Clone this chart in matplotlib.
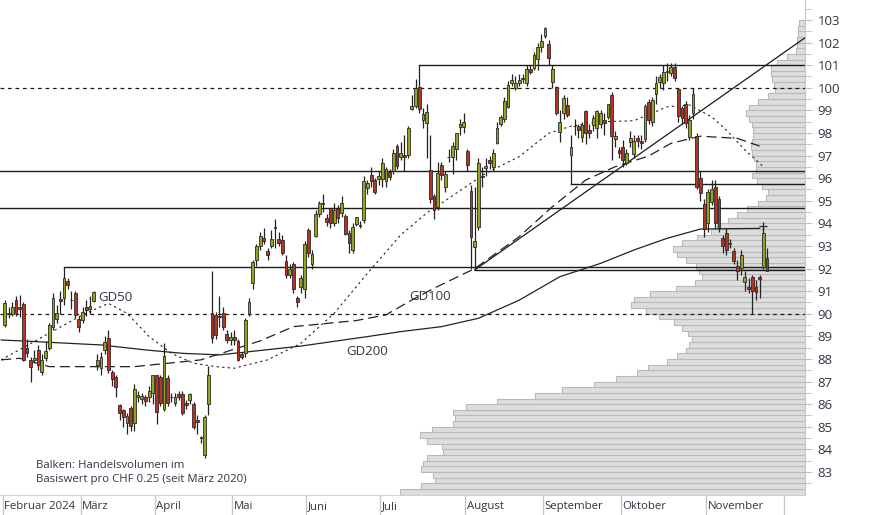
import matplotlib
matplotlib.use("Agg")
import matplotlib.pyplot as plt
import numpy as np

plt.rcParams['font.family'] = ['Open Sans', 'DejaVu Sans']

# ---- daily OHLC, day 0 = 1 Feb 2024 ----
opens = [89.5, 90.0, 89.98, 90.61, 90.3, 90.43, 88.5, 87.96, 87.96, 88.4,
         87.44, 88.03, 88.47, 89.43, 89.76, 90.67, 90.68, 91.47, 90.62, 90.93,
         89.76, 89.73, 90.32, 90.2, 90.58, 87.73, 87.59, 88.4, 88.91, 87.42,
         87.22, 85.96, 85.74, 85.18, 85.81, 85.15, 86.33, 86.22, 86.3, 86.33,
         86.48, 87.29, 87.19, 85.79, 87.17, 86.33, 86.04, 86.44, 86.44, 86.07,
         86.19, 86.01, 85.3, 84.53, 83.75, 86.01, 90.02, 89.95, 89.9, 90.05,
         89.1, 88.84, 88.95, 88.8, 88.2, 88.25, 90.0, 91.38, 92.4, 93.0,
         93.34, 92.78, 93.0, 93.85, 93.3, 93.27, 92.33, 91.72, 92.2, 90.68,
         91.2, 91.08, 93.7, 92.2, 93.44, 94.41, 94.9, 94.23, 94.67, 94.03,
         94.62, 94.45, 94.33, 93.56, 92.8, 93.97, 93.9, 94.15, 95.55, 96.12,
         95.92, 95.95, 95.95, 95.89, 96.29, 96.3, 97.43, 96.92, 97.03, 97.03,
         99.05, 99.2, 100.05, 98.58, 98.43, 96.36, 95.21, 94.74, 96.58, 95.63,
         96.92, 96.92, 97.28, 98.25, 98.28, 97.2, 95.45, 92.97, 93.86, 96.05,
         96.44, 96.81, 96.51, 97.54, 98.4, 98.63, 99.14, 100.23, 99.98, 100.2,
         100.37, 100.2, 100.82, 100.86, 101.26, 101.79, 102.29, 101.94, 100.27, 100.02,
         98.06, 98.87, 99.24, 97.04, 98.3, 98.31, 97.84, 98.99, 98.13, 98.35,
         98.2, 98.4, 98.58, 98.72, 99.68, 97.72, 97.25, 97.36, 96.66, 97.61,
         97.07, 97.76, 97.66, 97.72, 99.38, 98.5, 99.72, 100.27, 100.22, 100.7,
         100.64, 100.9, 99.93, 99.09, 99.28, 97.81, 98.87, 97.86, 95.99, 94.86,
         94.03, 94.96, 95.62, 95.1, 93.34, 93.59, 93.15, 92.79, 92.11, 92.01,
         91.42, 91.17, 91.61, 91.2, 91.61, 92.05, 92.45]
highs = [90.61, 90.3, 90.5, 90.8, 90.83, 90.5, 88.9, 88.1, 88.4, 88.6,
         88.2, 88.8, 89.6, 90.9, 90.4, 91.0, 92.07, 91.6, 91.0, 91.0,
         89.9, 90.3, 90.6, 90.8, 91.0, 88.2, 88.3, 89.0, 89.3, 87.5,
         87.3, 86.0, 85.8, 85.6, 85.9, 86.9, 86.6, 86.5, 86.4, 86.8,
         87.3, 87.3, 87.3, 88.7, 87.3, 86.5, 86.5, 86.6, 86.6, 86.2,
         86.5, 86.1, 85.5, 84.6, 85.5, 87.7, 91.9, 90.1, 90.8, 90.3,
         89.3, 89.2, 89.3, 88.9, 88.3, 89.8, 90.7, 92.4, 93.1, 93.6,
         93.8, 92.9, 93.7, 94.2, 93.6, 93.5, 92.6, 92.2, 92.3, 90.8,
         91.7, 93.2, 93.8, 92.8, 94.6, 95.0, 95.3, 94.4, 94.7, 94.9,
         94.8, 95.2, 94.4, 93.7, 94.0, 94.3, 94.1, 96.1, 95.9, 96.5,
         96.0, 96.3, 96.9, 96.5, 96.4, 97.3, 97.5, 97.6, 97.9, 98.3,
         99.7, 100.4, 101.0, 99.1, 99.3, 97.9, 95.3, 96.7, 96.7, 96.3,
         97.3, 97.6, 98.0, 98.6, 98.9, 97.3, 95.7, 95.6, 96.9, 96.5,
         96.9, 97.0, 97.3, 98.5, 98.8, 99.6, 100.3, 100.6, 100.5, 100.6,
         100.6, 101.0, 101.0, 101.6, 102.0, 102.4, 102.7, 102.1, 101.0, 100.1,
         99.0, 99.7, 99.6, 97.9, 98.6, 98.4, 98.5, 99.0, 98.4, 98.8,
         99.0, 99.0, 98.9, 99.3, 99.8, 98.1, 97.4, 97.7, 97.3, 98.1,
         97.9, 97.9, 97.9, 99.3, 99.5, 99.6, 100.5, 100.6, 101.0, 101.1,
         101.1, 101.1, 100.0, 99.2, 99.4, 98.8, 100.0, 98.0, 96.3, 95.1,
         95.5, 95.9, 95.9, 95.2, 93.5, 93.8, 93.3, 92.9, 92.4, 92.8,
         91.9, 91.6, 91.7, 91.5, 91.7, 93.9, 92.9]
lows = [89.43, 89.8, 89.9, 89.9, 89.87, 87.9, 88.1, 87.0, 87.8, 87.5,
        87.3, 87.9, 88.4, 89.3, 89.6, 90.0, 90.4, 91.1, 90.2, 89.8,
        89.2, 89.6, 89.9, 90.0, 90.5, 87.5, 87.3, 88.2, 87.4, 86.8,
        86.3, 85.3, 85.0, 84.7, 84.8, 84.8, 86.1, 86.0, 85.9, 86.1,
        86.0, 85.1, 85.9, 85.7, 85.9, 86.1, 85.9, 86.2, 85.5, 85.8,
        86.0, 84.9, 84.7, 84.3, 83.6, 85.5, 88.7, 88.9, 89.4, 89.3,
        88.7, 88.6, 88.6, 87.9, 88.0, 88.1, 89.9, 91.1, 92.1, 92.8,
        93.1, 92.4, 92.9, 92.9, 93.0, 92.6, 91.6, 91.6, 90.9, 90.3,
        90.9, 90.7, 92.5, 92.0, 93.4, 94.3, 94.5, 93.9, 93.8, 93.9,
        94.0, 94.3, 93.5, 92.7, 92.7, 93.9, 93.8, 94.0, 95.3, 95.6,
        95.3, 95.7, 95.6, 95.6, 95.9, 96.2, 96.4, 96.8, 96.3, 96.9,
        99.0, 99.1, 98.9, 98.2, 96.9, 94.9, 94.2, 94.6, 95.9, 95.4,
        96.7, 96.2, 96.8, 97.9, 98.0, 96.3, 92.0, 91.94, 93.7, 95.6,
        96.1, 96.4, 96.3, 97.5, 98.3, 98.5, 99.1, 100.1, 99.9, 100.1,
        100.2, 100.1, 100.6, 100.8, 100.8, 101.6, 102.2, 101.0, 100.0, 98.8,
        97.6, 98.6, 98.7, 95.75, 97.9, 97.8, 97.6, 97.5, 97.8, 98.1,
        97.8, 98.2, 97.9, 98.6, 96.8, 97.4, 96.9, 96.5, 96.6, 97.4,
        96.9, 97.4, 97.3, 97.6, 98.4, 98.3, 99.3, 100.0, 99.9, 100.3,
        100.5, 100.3, 98.5, 98.4, 98.2, 97.7, 98.6, 95.5, 95.0, 93.4,
        93.6, 94.8, 93.8, 93.6, 92.7, 92.6, 92.9, 92.2, 91.5, 91.7,
        91.0, 90.9, 90.0, 90.6, 90.7, 92.0, 91.9]
closes = [90.46, 90.05, 90.3, 90.02, 90.2, 87.96, 88.28, 87.66, 88.03, 87.73,
          87.96, 88.37, 89.5, 90.68, 90.02, 90.55, 91.57, 91.27, 90.6, 89.95,
          89.43, 90.1, 90.17, 90.35, 90.98, 87.96, 88.07, 88.77, 87.51, 87.1,
          86.75, 85.6, 85.45, 85.48, 85.05, 86.67, 86.4, 86.36, 86.16, 86.6,
          87.29, 85.67, 86.04, 88.15, 86.04, 86.3, 86.33, 86.33, 85.6, 85.95,
          86.45, 84.98, 85.2, 84.49, 85.45, 87.29, 88.91, 89.06, 89.85, 89.43,
          88.84, 88.95, 88.84, 87.96, 88.1, 89.73, 90.5, 92.27, 93.0, 93.44,
          93.24, 92.6, 93.3, 93.8, 93.12, 92.7, 91.72, 91.97, 91.08, 90.5,
          91.57, 93.07, 92.68, 92.63, 94.41, 94.89, 94.85, 94.08, 94.03, 94.6,
          94.23, 94.92, 93.53, 93.12, 93.83, 94.27, 93.95, 95.89, 95.8, 95.89,
          95.4, 96.1, 96.66, 96.4, 96.07, 97.13, 96.54, 97.13, 96.95, 98.21,
          99.2, 99.98, 99.05, 98.84, 98.95, 95.06, 94.59, 96.24, 96.14, 96.19,
          96.95, 97.42, 97.99, 98.4, 98.5, 96.57, 93.41, 93.24, 96.66, 96.1,
          96.54, 96.69, 97.13, 98.21, 98.69, 99.43, 100.12, 100.35, 100.23, 100.35,
          100.42, 100.82, 100.71, 101.45, 101.82, 102.09, 102.63, 101.3, 100.83, 98.87,
          98.5, 99.53, 98.8, 97.4, 98.31, 98.13, 98.35, 97.99, 97.99, 98.65,
          98.99, 98.87, 98.46, 99.28, 97.87, 97.87, 97.1, 96.8, 97.13, 97.8,
          97.66, 97.66, 97.54, 99.19, 98.57, 99.46, 100.2, 100.46, 100.71, 100.75,
          100.9, 100.42, 98.75, 98.65, 98.43, 98.57, 99.72, 95.62, 95.36, 93.75,
          95.4, 95.5, 94.0, 93.78, 93.0, 92.82, 93.09, 92.32, 91.91, 92.6,
          91.61, 91.11, 91.02, 90.98, 91.52, 93.59, 91.91]

# ---- moving averages (day, value) ----
gd50_days = [-1, 12, 21, 28, 33, 39, 45, 51, 57, 62, 71, 80, 89, 98, 107, 115, 118,
             130, 139, 147, 153, 161, 170, 179, 185, 191, 195, 200, 205]
gd50_vals = [87.96, 89.14, 89.95, 90.46, 90.02, 88.99, 88.25, 87.81, 87.66, 87.59, 87.96,
             88.69, 90.02, 91.79, 93.49, 94.59, 94.89, 96.22, 96.95, 97.99, 98.3, 98.5,
             98.54, 99.16, 99.24, 98.72, 98.13, 97.25, 96.51]
gd100_days = [-1, 4, 12, 35, 53, 69, 78, 95, 103, 110, 116, 127, 139, 148, 157, 165,
              174, 180, 188, 198, 204]
gd100_vals = [87.96, 88.03, 87.66, 87.66, 87.96, 88.8, 89.43, 89.7, 89.95, 90.61, 91.13,
              92.0, 93.41, 94.74, 95.92, 96.51, 96.98, 97.54, 97.86, 97.76, 97.42]
gd200_days = [-1, 8, 26, 38, 48, 58, 80, 98, 107, 118, 128, 139, 150, 161, 170, 179, 188, 204]
gd200_vals = [88.84, 88.77, 88.62, 88.4, 88.25, 88.18, 88.57, 88.99, 89.21, 89.43, 89.8,
              90.6, 91.64, 92.23, 92.82, 93.34, 93.75, 93.78]

# ---- support / resistance ----
level_vals = [101.0, 96.33, 95.75, 94.68, 92.07, 91.94]
level_start = [112, -2, 153, -2, 16, 127]
dotted_levels = [100, 90]
trend_days = [127, 217]
trend_vals = [91.94, 102.3]

# ---- volume profile per CHF 0.25 bin (bin bottoms from 82.00) ----
vol_bins = np.arange(82.0, 103.0, 0.25)
volume = [405, 384, 370, 372, 384, 382, 378, 362, 363, 378, 385, 373, 352, 350, 352, 339,
          308, 270, 243, 211, 189, 168, 157, 138, 128, 119, 116, 113, 117, 123, 131, 146,
          159, 174, 171, 155, 129, 110, 103, 106, 109, 119, 128, 132, 123, 108, 94, 88,
          77, 68, 58, 47, 39, 37, 43, 48, 53, 49, 49, 51, 53, 54, 53, 52,
          52, 53, 56, 59, 56, 47, 37, 30, 31, 33, 34, 34, 28, 18, 9, 8,
          8, 7, 7, 6]

months = ["Februar 2024", "März", "April", "Mai", "Juni", "Juli", "August",
          "September", "Oktober", "November"]
month_start = [0, 21, 41, 62, 82, 102, 125, 146, 167, 190, 211]

XMIN, XMAX = -1.31, 216.26
YMIN, YMAX = 81.98, 103.885

fig = plt.figure(figsize=(8.74, 5.15), dpi=100)
ax = fig.add_axes([0, 20 / 515, 805 / 874, 495 / 515])

# volume profile behind everything
axv = ax.twiny()
axv.set_zorder(0)
ax.set_zorder(1)
ax.patch.set_visible(False)
axv.barh(vol_bins, volume, height=0.25, left=0, align='edge',
         color='#dddddd', edgecolor='#b9b9b9', linewidth=0.8)
axv.set_xlim(805, 0)
axv.axis('off')

days = np.arange(len(closes))
o = np.array(opens); c = np.array(closes)
up = c >= o
ax.vlines(days, lows, highs, color='#222222', linewidth=0.9, zorder=3)
ax.bar(days[up], (c - o)[up], bottom=o[up], width=0.75, color='#94a51d',
       edgecolor='#2a2a2a', linewidth=0.6, zorder=4)
ax.bar(days[~up], (o - c)[~up], bottom=c[~up], width=0.75, color='#b73322',
       edgecolor='#2a2a2a', linewidth=0.6, zorder=4)
ax.plot(days[-2], highs[-2], marker='+', color='#222222', ms=6, mew=0.9, zorder=5)

for lv, st in zip(level_vals, level_start):
    ax.plot([st, XMAX], [lv, lv], color='#1a1a1a', lw=1.0, zorder=2)
for lv in dotted_levels:
    ax.axhline(lv, color='#1a1a1a', lw=0.9, ls=(0, (3, 3)), zorder=2)
ax.plot(trend_days, trend_vals, color='#1a1a1a', lw=0.9, zorder=2)

ax.plot(gd50_days, gd50_vals, color='#222222', lw=0.8, ls=(0, (2, 3)), zorder=2)
ax.plot(gd100_days, gd100_vals, color='#222222', lw=0.9, ls=(0, (8, 4)), zorder=2)
ax.plot(gd200_days, gd200_vals, color='#222222', lw=0.9, zorder=2)

lab = dict(fontsize=9.5, color='#333344', zorder=6)
ax.text(30, 90.72, "GD50", ha='center', va='center', **lab)
ax.text(115, 90.75, "GD100", ha='center', va='center', **lab)
ax.text(98, 88.35, "GD200", ha='center', va='center', **lab)
ax.text(8.4, 83.3, "Balken: Handelsvolumen im", fontsize=8.2, color='#333344', va='center')
ax.text(8.4, 82.68, "Basiswert pro CHF 0.25 (seit März 2020)", fontsize=8.2,
        color='#333344', va='center')

ax.set_xlim(XMIN, XMAX)
ax.set_ylim(YMIN, YMAX)
ax.set_xticks([])
for s in ['left', 'top', 'bottom']:
    ax.spines[s].set_visible(False)
ax.spines['right'].set_color('#c8c8c8')
ax.yaxis.tick_right()
ax.set_yticks(range(83, 104))
ax.set_yticks(np.arange(82.5, 104, 1.0), minor=True)
ax.tick_params(axis='y', which='both', length=5, color='#c0c0c0', labelsize=9.5,
               labelcolor='#333344', pad=4)

# month strip
axm = fig.add_axes([0, 0, 805 / 874, 20 / 515])
axm.set_xlim(XMIN, XMAX)
axm.set_ylim(0, 1)
axm.axis('off')
axm.axhline(1, color='#c8c8c8', lw=1.2)
for i, m in enumerate(months):
    axm.axvline(month_start[i] - 0.5, color='#c8c8c8', lw=1)
    axm.text(month_start[i] - 0.1, 0.42, m, fontsize=8.2, color='#333344', va='center')
axm.axvline(month_start[-1] - 0.5, color='#c8c8c8', lw=1)

fig.savefig("out.png", dpi=100)
